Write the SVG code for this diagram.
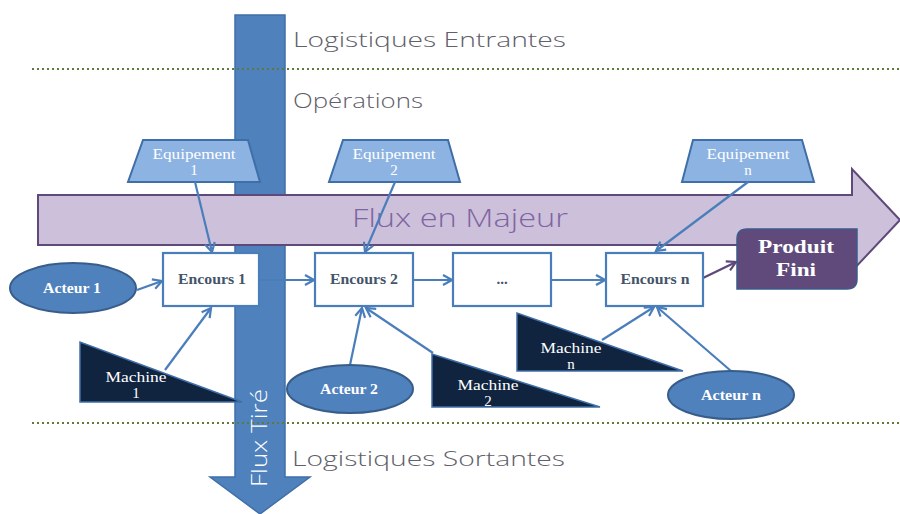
<svg xmlns="http://www.w3.org/2000/svg" width="900" height="514" viewBox="0 0 900 514">
<defs>
<style>
.hand{font-family:"Open Sans","DejaVu Sans",sans-serif;fill:#60606a;font-size:21px;font-weight:300;}
.equip{fill:#8DB3E2;stroke:#3F6FA8;stroke-width:2;}
.equipT{font-family:"Liberation Serif",serif;font-size:15px;fill:#ffffff;text-anchor:middle;}
.box{fill:#ffffff;stroke:#4A7EBB;stroke-width:2.2;}
.boxT{font-family:"Liberation Serif",serif;font-size:15px;font-weight:bold;fill:#44546A;text-anchor:middle;}
.act{fill:#4F81BD;stroke:#385D8A;stroke-width:2;}
.actT{font-family:"Liberation Serif",serif;font-size:15px;font-weight:bold;fill:#ffffff;text-anchor:middle;}
.mach{fill:#10243F;stroke:#3F6FA8;stroke-width:1.5;}
.machT{font-family:"Liberation Serif",serif;font-size:15px;fill:#ffffff;text-anchor:middle;}
.dots{stroke:#5E7A3A;stroke-width:2.2;stroke-dasharray:2 3;fill:none;}
.conn{stroke:#4A7EBB;stroke-width:2.2;fill:none;}
</style>
<marker id="ah" markerWidth="12" markerHeight="12" refX="10" refY="6" orient="auto" markerUnits="userSpaceOnUse">
<path d="M1,1 L10,6 L1,11" fill="none" stroke="#4A7EBB" stroke-width="2.2"/>
</marker>
<marker id="ahp" markerWidth="12" markerHeight="12" refX="10" refY="6" orient="auto" markerUnits="userSpaceOnUse">
<path d="M1,1 L10,6 L1,11" fill="none" stroke="#5F497A" stroke-width="2.2"/>
</marker>
</defs>
<rect width="900" height="514" fill="#ffffff"/>

<g id="flux-tire-arrow">
<polygon points="235,15 285,15 285,477 310,477 260,514 210,477 235,477" fill="#4F81BD" stroke="#3F6FA8" stroke-width="1.5"/>
</g>

<g id="separators">
<line class="dots" x1="32" y1="69" x2="900" y2="69"/>
<line class="dots" x1="32" y1="423" x2="900" y2="423"/>
</g>

<g id="zone-labels">
<text class="hand" x="293" y="47" textLength="273" lengthAdjust="spacingAndGlyphs">Logistiques Entrantes</text>
<text class="hand" x="293" y="108" textLength="130" lengthAdjust="spacingAndGlyphs">Opérations</text>
<text class="hand" x="292" y="466" textLength="273" lengthAdjust="spacingAndGlyphs">Logistiques Sortantes</text>
</g>

<g id="flux-majeur">
<polygon points="38,195 852,195 852,169 900,220 852,271 852,245 38,245" fill="#CCC0DA" stroke="#5F497A" stroke-width="2"/>
<text x="352" y="227" font-family="'Open Sans','DejaVu Sans',sans-serif" font-size="26" font-weight="300" fill="#8064A2" textLength="216" lengthAdjust="spacingAndGlyphs">Flux en Majeur</text>
</g>

<g id="equipement-1">
<polygon class="equip" points="143,140 248,140 260,182 128,182"/>
<text class="equipT" x="194" y="159" textLength="83" lengthAdjust="spacingAndGlyphs">Equipement</text>
<text class="equipT" x="194" y="175">1</text>
</g>
<g id="equipement-2">
<polygon class="equip" points="343,140 448,140 460,182 329,182"/>
<text class="equipT" x="394" y="159" textLength="83" lengthAdjust="spacingAndGlyphs">Equipement</text>
<text class="equipT" x="394" y="175">2</text>
</g>
<g id="equipement-n">
<polygon class="equip" points="693,140 802,140 814,182 682,182"/>
<text class="equipT" x="748" y="159" textLength="83" lengthAdjust="spacingAndGlyphs">Equipement</text>
<text class="equipT" x="748" y="175">n</text>
</g>

<g id="machine-1">
<polygon class="mach" points="80,342 80,402 242,402"/>
<text class="machT" x="136" y="382" textLength="61" lengthAdjust="spacingAndGlyphs">Machine</text>
<text class="machT" x="136" y="398">1</text>
</g>
<g id="machine-2">
<polygon class="mach" points="432,354 432,407 600,407"/>
<text class="machT" x="488" y="390" textLength="61" lengthAdjust="spacingAndGlyphs">Machine</text>
<text class="machT" x="488" y="406">2</text>
</g>
<g id="machine-n">
<polygon class="mach" points="517,313 517,371 683,371"/>
<text class="machT" x="571" y="353" textLength="61" lengthAdjust="spacingAndGlyphs">Machine</text>
<text class="machT" x="571" y="369">n</text>
</g>

<g id="flux-tire-label">
<text transform="translate(267,487) rotate(-90)" font-family="'Open Sans','DejaVu Sans',sans-serif" font-size="22" font-weight="300" fill="#ffffff" textLength="98" lengthAdjust="spacingAndGlyphs">Flux Tiré</text>
</g>

<g id="connectors">
<line class="conn" x1="195" y1="182" x2="212" y2="252" marker-end="url(#ah)"/>
<line class="conn" x1="395" y1="182" x2="365" y2="252" marker-end="url(#ah)"/>
<line class="conn" x1="748" y1="182" x2="656" y2="251" marker-end="url(#ah)"/>
<line class="conn" x1="137" y1="290" x2="162" y2="281" marker-end="url(#ah)"/>
<line class="conn" x1="259" y1="280" x2="314" y2="280" marker-end="url(#ah)"/>
<line class="conn" x1="413" y1="280" x2="452" y2="280" marker-end="url(#ah)"/>
<line class="conn" x1="551" y1="280" x2="605" y2="280" marker-end="url(#ah)"/>
<line stroke="#5F497A" stroke-width="2.2" x1="703" y1="278" x2="736" y2="262" marker-end="url(#ahp)"/>
<line class="conn" x1="165" y1="370" x2="211" y2="308" marker-end="url(#ah)"/>
<line class="conn" x1="350" y1="365" x2="362" y2="308" marker-end="url(#ah)"/>
<line class="conn" x1="433" y1="353" x2="366" y2="308" marker-end="url(#ah)"/>
<line class="conn" x1="602" y1="340" x2="654" y2="307" marker-end="url(#ah)"/>
<line class="conn" x1="731" y1="371" x2="657" y2="307" marker-end="url(#ah)"/>
</g>

<g id="encours-1">
<rect class="box" x="163" y="253" width="96" height="53"/>
<text class="boxT" x="212" y="284" textLength="68" lengthAdjust="spacingAndGlyphs">Encours 1</text>
</g>
<g id="encours-2">
<rect class="box" x="315" y="253" width="98" height="53"/>
<text class="boxT" x="364" y="284" textLength="68" lengthAdjust="spacingAndGlyphs">Encours 2</text>
</g>
<g id="encours-dots">
<rect class="box" x="453" y="253" width="98" height="53"/>
<text class="boxT" x="502" y="284" font-weight="normal">...</text>
</g>
<g id="encours-n">
<rect class="box" x="606" y="253" width="97" height="53"/>
<text class="boxT" x="655" y="284" textLength="69" lengthAdjust="spacingAndGlyphs">Encours n</text>
</g>

<g id="produit-fini">
<path d="M747,229 L857,229 L857,279 Q857,289 847,289 L737,289 L737,239 Q737,229 747,229 Z" fill="#604A7B" stroke="#3D5A8A" stroke-width="1.5"/>
<text font-family="'Liberation Serif',serif" font-size="19" font-weight="bold" fill="#ffffff" text-anchor="middle" x="796" y="253" textLength="76" lengthAdjust="spacingAndGlyphs">Produit</text>
<text font-family="'Liberation Serif',serif" font-size="19" font-weight="bold" fill="#ffffff" text-anchor="middle" x="796" y="276" textLength="40" lengthAdjust="spacingAndGlyphs">Fini</text>
</g>

<g id="acteur-1">
<ellipse class="act" cx="73" cy="288" rx="63" ry="25"/>
<text class="actT" x="72" y="293" textLength="58" lengthAdjust="spacingAndGlyphs">Acteur 1</text>
</g>
<g id="acteur-2">
<ellipse class="act" cx="350" cy="389" rx="63" ry="24"/>
<text class="actT" x="349" y="394" textLength="58" lengthAdjust="spacingAndGlyphs">Acteur 2</text>
</g>
<g id="acteur-n">
<ellipse class="act" cx="731" cy="395" rx="63" ry="24"/>
<text class="actT" x="731" y="400" textLength="60" lengthAdjust="spacingAndGlyphs">Acteur n</text>
</g>
</svg>
